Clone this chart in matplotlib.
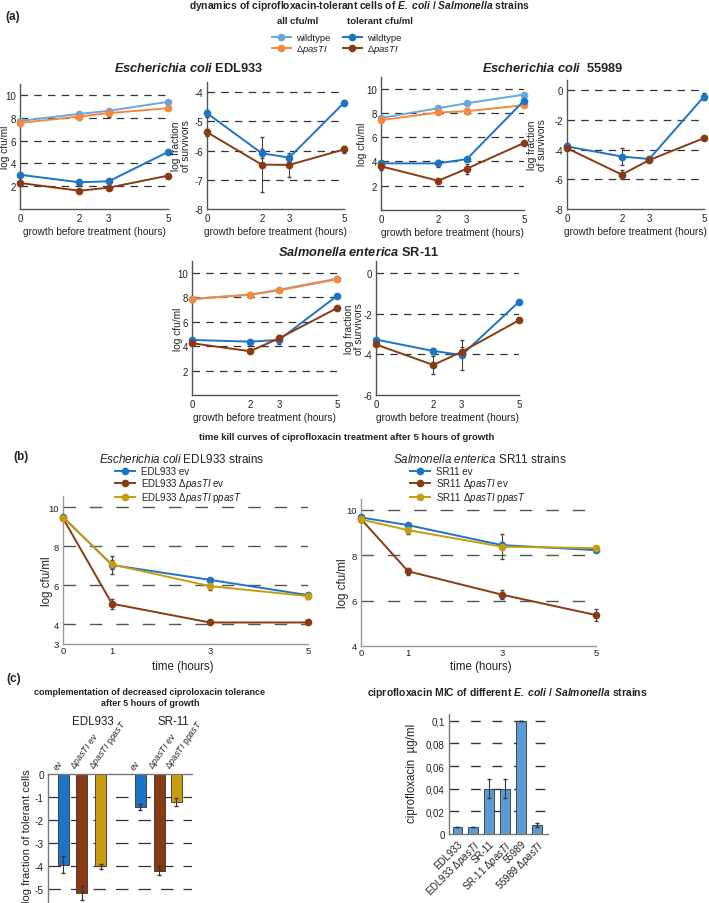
import numpy as np
import matplotlib
matplotlib.use("Agg")
import matplotlib.pyplot as plt
from matplotlib.lines import Line2D

plt.rcParams['font.family'] = ['Liberation Sans', 'DejaVu Sans']
plt.rcParams['mathtext.fontset'] = 'custom'
plt.rcParams['mathtext.rm'] = 'Liberation Sans'
plt.rcParams['mathtext.it'] = 'Liberation Sans:italic'
plt.rcParams['mathtext.bf'] = 'Liberation Sans:bold'
plt.rcParams['mathtext.bfit'] = 'Liberation Sans:italic:bold'
plt.rcParams['axes.unicode_minus'] = False

# ---------------- data (a): growth before treatment ----------------
hours = [0, 2, 3, 5]

# E. coli EDL933, log cfu/ml
edl_all_wt = [7.72, 8.33, 8.60, 9.39]
edl_all_pas = [7.54, 8.10, 8.40, 8.83]
edl_tol_wt = [3.00, 2.34, 2.43, 5.00]
edl_tol_pas = [2.28, 1.60, 1.87, 2.92]
edl_all_wt_err = [0.10, 0.12, 0.10, 0.08]
edl_all_pas_err = [0.10, 0.30, 0.30, 0.08]
edl_tol_wt_err = [0.12, 0.20, 0.12, 0.10]
edl_tol_pas_err = [0.25, 0.10, 0.15, 0.10]
# E. coli EDL933, log fraction of survivors
edl_frac_wt = [-4.72, -6.09, -6.24, -4.36]
edl_frac_pas = [-5.37, -6.48, -6.49, -5.96]
edl_frac_wt_err = [0.12, 0.15, 0.10, 0.08]
edl_frac_pas_err = [0.12, 0.93, 0.42, 0.12]

# E. coli 55989
e55_all_wt = [7.58, 8.38, 8.79, 9.50]
e55_all_pas = [7.40, 8.03, 8.13, 8.63]
e55_tol_wt = [3.84, 3.84, 4.19, 9.00]
e55_tol_pas = [3.60, 2.41, 3.40, 5.52]
e55_all_wt_err = [0.10, 0.10, 0.10, 0.10]
e55_all_pas_err = [0.10, 0.10, 0.25, 0.10]
e55_tol_wt_err = [0.10, 0.30, 0.10, 0.10]
e55_tol_pas_err = [0.30, 0.15, 0.40, 0.10]
e55_frac_wt = [-3.78, -4.46, -4.63, -0.42]
e55_frac_pas = [-3.90, -5.68, -4.70, -3.22]
e55_frac_wt_err = [0.20, 0.60, 0.20, 0.25]
e55_frac_pas_err = [0.10, 0.30, 0.10, 0.10]

# Salmonella enterica SR-11
sr_all_wt = [7.85, 8.20, 8.60, 9.50]
sr_all_pas = [7.83, 8.20, 8.55, 9.45]
sr_tol_wt = [4.50, 4.36, 4.50, 8.10]
sr_tol_pas = [4.23, 3.58, 4.63, 7.10]
sr_all_wt_err = [0.08, 0.10, 0.10, 0.08]
sr_all_pas_err = [0.08, 0.15, 0.10, 0.08]
sr_tol_wt_err = [0.10, 0.10, 0.30, 0.10]
sr_tol_pas_err = [0.10, 0.10, 0.25, 0.10]
sr_frac_wt = [-3.27, -3.83, -4.03, -1.41]
sr_frac_pas = [-3.51, -4.52, -3.87, -2.32]
sr_frac_wt_err = [0.10, 0.15, 0.75, 0.10]
sr_frac_pas_err = [0.10, 0.45, 0.25, 0.10]

# ---------------- data (b): time kill curves ----------------
kill_hours = [0, 1, 3, 5]
kill_edl_ev = [9.50, 7.04, 6.28, 5.50]
kill_edl_pas_ev = [9.43, 5.06, 4.10, 4.10]
kill_edl_pas_ppas = [9.47, 7.07, 5.96, 5.45]
kill_edl_ev_err = [0.10, 0.45, 0.10, 0.10]
kill_edl_pas_ev_err = [0.10, 0.25, 0.06, 0.10]
kill_edl_pas_ppas_err = [0.10, 0.25, 0.20, 0.15]
kill_sr_ev = [9.66, 9.32, 8.44, 8.22]
kill_sr_pas_ev = [9.59, 7.29, 6.26, 5.36]
kill_sr_pas_ppas = [9.57, 9.10, 8.37, 8.31]
kill_sr_ev_err = [0.10, 0.10, 0.15, 0.10]
kill_sr_pas_ev_err = [0.10, 0.15, 0.20, 0.25]
kill_sr_pas_ppas_err = [0.10, 0.15, 0.55, 0.10]

# ---------------- data (c) ----------------
comp_labels = ['ev', 'Δ$\\mathit{pasTI}$ ev', 'Δ$\\mathit{pasTI}$ p$\\mathit{pasT}$'] * 2
comp_vals = [-3.95, -5.18, -4.02, -1.44, -4.21, -1.22]
comp_err = [0.36, 0.30, 0.10, 0.15, 0.20, 0.17]

mic_strains = ['EDL933', 'EDL933 Δ$\\mathit{pasTI}$', 'SR-11', 'SR-11 Δ$\\mathit{pasTI}$',
               '55989', '55989 Δ$\\mathit{pasTI}$']
mic_vals = [0.006, 0.006, 0.04, 0.04, 0.1, 0.008]
mic_err = [0, 0, 0.0085, 0.0085, 0, 0.0015]

# colours
C_ALL_WT = '#6aa6dc'
C_ALL_PAS = '#f4883c'
C_TOL_WT = '#1c74c6'
C_TOL_PAS = '#8a3a12'
C_COMP = '#c89c10'
C_MIC = '#5b9bd5'
TXT = '#222222'

W, H = 709, 904
fig = plt.figure(figsize=(W / 100, H / 100), dpi=100)


def add_ax(left, top, right, bottom):
    return fig.add_axes([left / W, 1 - bottom / H, (right - left) / W, (bottom - top) / H])


def ftext(x, y, s, **kw):
    kw.setdefault('color', TXT)
    return fig.text(x / W, 1 - y / H, s, **kw)


def series(ax, x, y, err, color, lw=1.4, ms=4.5):
    c = ax.errorbar(x, y, yerr=err, color=color, marker='o', ms=ms, lw=lw,
                    ecolor='#444444', elinewidth=0.8, capsize=1.5, zorder=3)
    for art in c.lines[0:1] + tuple(c.lines[1]) + tuple(c.lines[2]):
        art.set_clip_on(False)
    return c


def style(ax, xlim, ylim, yticks, grid, xticks, gcolor='#333333', dashes=(6, 5), glw=0.9,
          spine='#555555', fs=7, xpad=3):
    ax.set_xlim(xlim)
    ax.set_ylim(ylim)
    for s in ['top', 'right']:
        ax.spines[s].set_visible(False)
    for s in ['left', 'bottom']:
        ax.spines[s].set_color(spine)
        ax.spines[s].set_linewidth(1.0)
    ax.set_yticks(yticks)
    ax.set_xticks(xticks)
    ax.tick_params(length=0, labelsize=fs, pad=3, labelcolor=TXT)
    ax.tick_params(axis='x', pad=xpad)
    ax.patch.set_alpha(0)
    for g in grid:
        ax.axhline(g, color=gcolor, lw=glw, dashes=dashes, zorder=0)


def axbox(ax):
    p = ax.get_position()
    return p.x0 * W, (1 - p.y1) * H, p.x1 * W, (1 - p.y0) * H


# ---------------- (a) ----------------
ftext(5, 17, '(a)', fontsize=8.5, fontweight='bold', va='center')
ftext(360, 6, 'dynamics of ciprofloxacin-tolerant cells of $\\mathbfit{E.\\ coli}$ / '
      '$\\mathbfit{Salmonella}$ strains', fontsize=7.4, fontweight='bold', ha='center', va='center')
ftext(298, 22, 'all cfu/ml', fontsize=6.8, fontweight='bold', ha='center', va='center')
ftext(380, 22, 'tolerant cfu/ml', fontsize=6.8, fontweight='bold', ha='center', va='center')


def mk(color):
    return Line2D([], [], color=color, marker='o', ms=4.5, lw=1.4)


leg_kw = dict(loc='upper left', frameon=False, fontsize=6.8, handlelength=2.0,
              handletextpad=0.5, labelspacing=0.1, borderpad=0, borderaxespad=0)
for x0, cols in [(272, (C_ALL_WT, C_ALL_PAS)), (343, (C_TOL_WT, C_TOL_PAS))]:
    lg = fig.legend([mk(cols[0]), mk(cols[1])], ['wildtype', 'Δ$\\mathit{pasTI}$'],
                    bbox_to_anchor=(x0 / W, 1 - 34 / H), **leg_kw)
    for t in lg.get_texts():
        t.set_color(TXT)

sub_kw = dict(fontsize=9.2, fontweight='bold', ha='center', va='center')
ftext(188, 68, '$\\mathbfit{Escherichia\\ coli}$ EDL933', **sub_kw)
ftext(552, 68, '$\\mathbfit{Escherichia\\ coli}$  55989', **sub_kw)
ftext(358, 253, '$\\mathbfit{Salmonella\\ enterica}$ SR-11', **sub_kw)

AX_FS = 7.3


def cfu_panel(box, all_wt, all_pas, tol_wt, tol_pas, errs, ylab_x):
    ax = add_ax(*box)
    series(ax, hours, all_wt, errs[0], C_ALL_WT)
    series(ax, hours, all_pas, errs[1], C_ALL_PAS)
    series(ax, hours, tol_wt, errs[2], C_TOL_WT)
    series(ax, hours, tol_pas, errs[3], C_TOL_PAS)
    style(ax, (0, 5), (0, 10.95), [2, 4, 6, 8, 10], [2, 4, 6, 8, 10], hours)
    l, t, r, b = axbox(ax)
    ftext(ylab_x, (t + b) / 2, 'log cfu/ml', fontsize=AX_FS, rotation=90, ha='center', va='center')
    ftext((l + r) / 2, b + 22, 'growth before treatment (hours)', fontsize=AX_FS, ha='center', va='center')
    return ax


def frac_panel(box, wt, pas, errs, ylim, yticks, grid, ylab_x):
    ax = add_ax(*box)
    series(ax, hours, wt, errs[0], C_TOL_WT)
    series(ax, hours, pas, errs[1], C_TOL_PAS)
    style(ax, (0, 5), ylim, yticks, grid, hours)
    l, t, r, b = axbox(ax)
    ftext(ylab_x, (t + b) / 2, 'log fraction\nof survivors', fontsize=AX_FS, rotation=90,
          ha='center', va='center', linespacing=0.95)
    ftext((l + r) / 2, b + 22, 'growth before treatment (hours)', fontsize=AX_FS, ha='center', va='center')
    return ax


cfu_panel((20, 85, 168, 210), edl_all_wt, edl_all_pas, edl_tol_wt, edl_tol_pas,
          [edl_all_wt_err, edl_all_pas_err, edl_tol_wt_err, edl_tol_pas_err], 5)
frac_panel((207, 83, 344, 210), edl_frac_wt, edl_frac_pas, [edl_frac_wt_err, edl_frac_pas_err],
           (-8, -3.65), [-4, -5, -6, -7, -8], [-4, -5, -6, -7], 181)
cfu_panel((381, 78, 524, 211), e55_all_wt, e55_all_pas, e55_tol_wt, e55_tol_pas,
          [e55_all_wt_err, e55_all_pas_err, e55_tol_wt_err, e55_tol_pas_err], 362)
frac_panel((567, 81, 704, 210), e55_frac_wt, e55_frac_pas, [e55_frac_wt_err, e55_frac_pas_err],
           (-8, 0.7), [0, -2, -4, -6, -8], [0, -2, -4, -6], 537)
cfu_panel((192, 262, 337, 396), sr_all_wt, sr_all_pas, sr_tol_wt, sr_tol_pas,
          [sr_all_wt_err, sr_all_pas_err, sr_tol_wt_err, sr_tol_pas_err], 178)
frac_panel((376, 262, 519, 396), sr_frac_wt, sr_frac_pas, [sr_frac_wt_err, sr_frac_pas_err],
           (-6, 0.6), [0, -2, -4, -6], [0, -2, -4], 354)

# ---------------- (b) ----------------
ftext(13, 457, '(b)', fontsize=8.5, fontweight='bold', va='center')
ftext(347, 438, 'time kill curves of ciprofloxacin treatment after 5 hours of growth',
      fontsize=6.8, fontweight='bold', ha='center', va='center')


def kill_panel(box, ev, pas_ev, pas_pp, errs, ylim, yticks, grid, title, title_x, names, leg_x,
               ylab_x, xlab_dx):
    ax = add_ax(*box)
    series(ax, kill_hours, ev, errs[0], C_TOL_WT, lw=1.4, ms=4.5)
    series(ax, kill_hours, pas_ev, errs[1], C_TOL_PAS, lw=1.4, ms=4.5)
    series(ax, kill_hours, pas_pp, errs[2], C_COMP, lw=1.4, ms=4.5)
    style(ax, (0, 5), ylim, yticks, grid, kill_hours, gcolor='#555555', dashes=(9, 10),
          glw=1.0, spine='#999999', fs=6.8, xpad=1.5)
    l, t, r, b = axbox(ax)
    ftext((l + r) / 2 + xlab_dx, 667, 'time (hours)', fontsize=8.3, ha='center', va='center')
    ftext(ylab_x, (t + b) / 2 + 10, 'log cfu/ml', fontsize=8.3, rotation=90, ha='center', va='center')
    ftext(title_x, 460, title, fontsize=8.4, ha='center', va='center')
    lg = fig.legend([mk(C_TOL_WT), mk(C_TOL_PAS), mk(C_COMP)], names,
                    loc='upper left', bbox_to_anchor=(leg_x / W, 1 - 467 / H), frameon=False,
                    fontsize=7, handlelength=2.1, handletextpad=0.6, labelspacing=0.0,
                    borderpad=0, borderaxespad=0)
    for tx in lg.get_texts():
        tx.set_color(TXT)
    return ax


kill_panel((63, 497, 308, 645), kill_edl_ev, kill_edl_pas_ev, kill_edl_pas_ppas,
           [kill_edl_ev_err, kill_edl_pas_ev_err, kill_edl_pas_ppas_err],
           (3, 10.57), [3, 4, 6, 8, 10], [4, 6, 8, 10],
           '$\\mathit{Escherichia\\ coli}$ EDL933 strains', 182,
           ['EDL933 ev', 'EDL933 Δ$\\mathit{pasTI}$ ev', 'EDL933 Δ$\\mathit{pasTI}$ p$\\mathit{pasT}$'],
           115, 47, -3)
kill_panel((361, 500, 596, 647), kill_sr_ev, kill_sr_pas_ev, kill_sr_pas_ppas,
           [kill_sr_ev_err, kill_sr_pas_ev_err, kill_sr_pas_ppas_err],
           (4, 10.47), [4, 6, 8, 10], [6, 8, 10],
           '$\\mathit{Salmonella\\ enterica}$ SR11 strains', 480,
           ['SR11 ev', 'SR11 Δ$\\mathit{pasTI}$ ev', 'SR11 Δ$\\mathit{pasTI}$ p$\\mathit{pasT}$'],
           410, 343, 2)

# ---------------- (c) left: complementation ----------------
ftext(6, 679, '(c)', fontsize=8.5, fontweight='bold', va='center')
ftext(150, 698, 'complementation of decreased ciproloxacin tolerance\nafter 5 hours of growth',
      fontsize=6.5, fontweight='bold', ha='center', va='center', linespacing=1.25)
ftext(93, 722, 'EDL933', fontsize=8.3, ha='center', va='center')
ftext(173, 722, 'SR-11', fontsize=8.3, ha='center', va='center')

comp_pos = np.array([0, 1, 2, 4.1, 5.1, 6.0])
comp_colors = [C_TOL_WT, C_TOL_PAS, C_COMP] * 2
axc = add_ax(48, 775, 192, 904)
axc.bar(comp_pos, comp_vals, width=0.58, color=comp_colors, edgecolor='#333333', lw=0.6,
        yerr=comp_err, error_kw=dict(ecolor='#333333', elinewidth=0.8, capsize=1.5), zorder=2)
axc.set_xlim(-0.8, 6.83)
axc.set_ylim(-5.62, 0)
for s in ['bottom', 'right']:
    axc.spines[s].set_visible(False)
for s in ['left', 'top']:
    axc.spines[s].set_color('#777777')
    axc.spines[s].set_linewidth(1.0)
axc.set_xticks([])
axc.set_yticks([0, -1, -2, -3, -4, -5])
axc.tick_params(length=0, labelsize=7.3, pad=3, labelcolor=TXT)
for g in [-1, -2, -3, -4, -5]:
    axc.axhline(g, color='#333333', lw=0.9, dashes=(10, 8), zorder=0)
for p, lab in zip(comp_pos, comp_labels):
    axc.text(p - 0.2, 0.12, lab, rotation=55, ha='left', va='bottom', rotation_mode='anchor',
             fontsize=6.3, color=TXT)
ftext(27, 836, 'log fraction of tolerant cells', fontsize=8, rotation=90, ha='center', va='center')

# ---------------- (c) right: MIC ----------------
ftext(507, 693, 'ciprofloxacin MIC of different $\\mathbfit{E.\\ coli}$ / $\\mathbfit{Salmonella}$ strains',
      fontsize=7.5, fontweight='bold', ha='center', va='center')
axm = add_ax(449, 715, 548, 835)
mic_pos = np.arange(len(mic_vals))
axm.bar(mic_pos, mic_vals, width=0.61, color=C_MIC, edgecolor='#333333', lw=0.6,
        yerr=mic_err, error_kw=dict(ecolor='#333333', elinewidth=0.8, capsize=1.5), zorder=2)
axm.set_xlim(-0.53, 5.69)
axm.set_ylim(0, 0.106)
for s in ['top', 'right']:
    axm.spines[s].set_visible(False)
for s in ['left', 'bottom']:
    axm.spines[s].set_color('#777777')
    axm.spines[s].set_linewidth(1.0)
axm.set_yticks([0, 0.02, 0.04, 0.06, 0.08, 0.1])
axm.set_yticklabels(['0', '0,02', '0,04', '0,06', '0,08', '0,1'])
axm.set_xticks(mic_pos)
axm.set_xticklabels(mic_strains, rotation=45, ha='right', rotation_mode='anchor')
axm.tick_params(length=0, labelsize=7, pad=3, labelcolor=TXT)
for g in [0.02, 0.04, 0.06, 0.08, 0.1]:
    axm.axhline(g, color='#333333', lw=1.0, dashes=(7, 8.5), zorder=0)
ftext(412, 773, 'ciprofloxacin  µg/ml', fontsize=8.3, rotation=90, ha='center', va='center')

fig.savefig('out.png', dpi=100)
